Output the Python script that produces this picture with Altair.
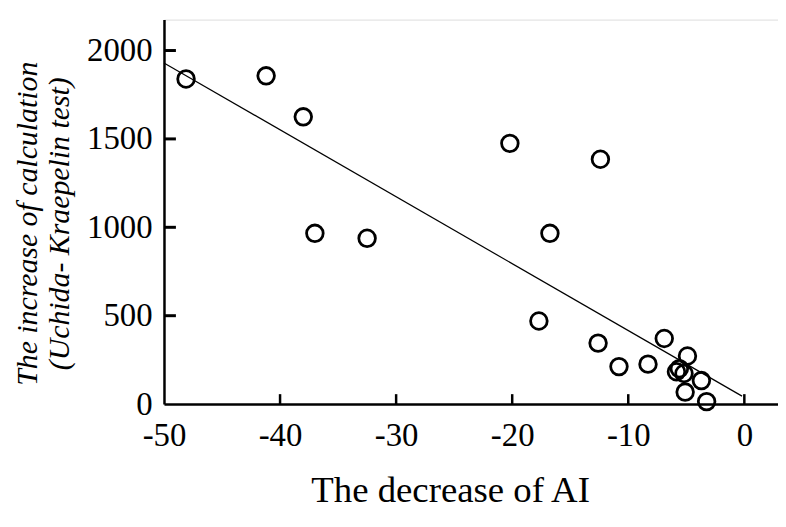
import altair as alt
import pandas as pd

# data
ai_decrease = [-48.1, -41.2, -38.0, -37.0, -32.5, -20.2, -17.7, -16.75, -12.4, -12.6,
               -10.8, -8.3, -6.9, -4.9, -5.85, -5.2, -5.6, -3.7, -5.1, -3.25]
calc_increase = [1839, 1857, 1625, 966, 938, 1475, 470, 966, 1385, 345,
                 212, 226, 371, 272, 183, 173, 200, 133, 68, 14]

fit_x = [-50, -0.2]
fit_y = [1930, 45]

y_ticks = [500, 1000, 1500, 2000]
x_ticks = [-40, -30, -20, -10, 0]
x_labels = [-50, -40, -30, -20, -10, 0]
y_labels = [0, 500, 1000, 1500, 2000]

W, H = 618, 387
FONT = "Liberation Serif"

pts = pd.DataFrame({"x": ai_decrease, "y": calc_increase})
fit = pd.DataFrame({"x": fit_x, "y": fit_y})
yt = pd.DataFrame({"y": y_ticks})
xt = pd.DataFrame({"x": x_ticks})

xscale = alt.Scale(domain=[-50, 2.9], nice=False, zero=False)
yscale = alt.Scale(domain=[0, 2175], nice=False)

xaxis = alt.Axis(values=x_labels, labelExpr="'' + datum.value", tickSize=0,
                 labelFlush=False, labelPadding=16, labelFont=FONT, labelFontSize=33,
                 labelColor="black", domainColor="black", domainWidth=2.5, grid=False,
                 title="The decrease of AI", titleFont=FONT, titleFontSize=37,
                 titleFontWeight="normal", titleColor="black", titlePadding=20,
                 titleX=288)
yaxis = alt.Axis(values=y_labels, labelExpr="'' + datum.value", tickSize=0,
                 labelFlush=False, labelPadding=12, labelFont=FONT, labelFontSize=33,
                 labelColor="black", domainColor="black", domainWidth=2.5, grid=False,
                 title=["The increase of calculation", "(Uchida- Kraepelin test)"],
                 titleFont=FONT, titleFontSize=30, titleFontStyle="italic",
                 titleFontWeight="normal", titleColor="black", titleLineHeight=32,
                 titlePadding=12, titleY=205)

points = alt.Chart(pts).mark_point(shape="circle", filled=False, color="black",
                                   strokeWidth=2.8, size=280, opacity=1).encode(
    x=alt.X("x:Q", scale=xscale, axis=xaxis),
    y=alt.Y("y:Q", scale=yscale, axis=yaxis),
)

line = alt.Chart(fit).mark_line(color="black", strokeWidth=1.2).encode(
    x=alt.X("x:Q", scale=xscale),
    y=alt.Y("y:Q", scale=yscale),
)

yticks = alt.Chart(yt).mark_rule(color="black", strokeWidth=3).encode(
    y=alt.Y("y:Q", scale=yscale),
    x=alt.value(0), x2=alt.value(12),
)

xticks = alt.Chart(xt).mark_rule(color="black", strokeWidth=2.5).encode(
    x=alt.X("x:Q", scale=xscale),
    y=alt.value(H), y2=alt.value(H - 10),
)

chart = alt.layer(line, yticks, xticks, points).properties(
    width=W, height=H,
    autosize=alt.AutoSizeParams(type="none"),
    padding={"left": 157, "top": 10, "right": 0, "bottom": 115},
).configure_view(stroke=None).configure(background="white")

chart.save("out.html", embed_options={"renderer": "svg", "actions": False})
